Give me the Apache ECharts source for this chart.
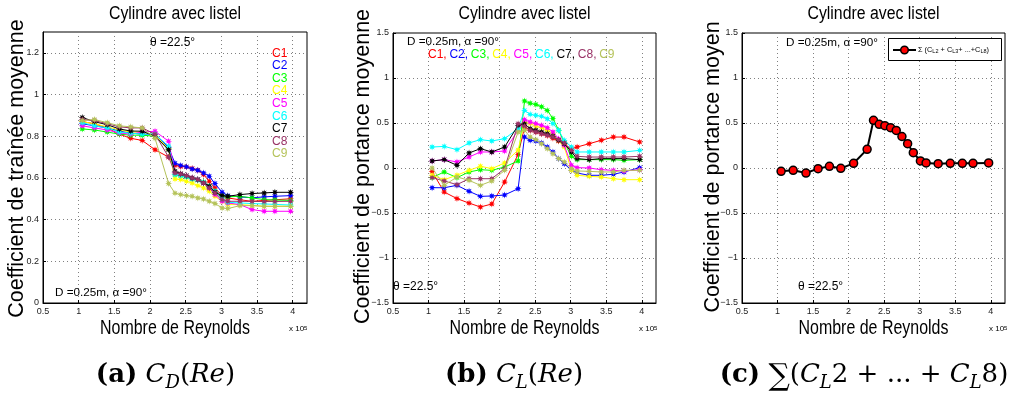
<!DOCTYPE html>
<html><head><meta charset="utf-8">
<script src="https://cdn.jsdelivr.net/npm/echarts@6/dist/echarts.min.js"></script>
<style>html,body{margin:0;padding:0;background:#fff}#c{width:1012px;height:396px}</style>
</head><body><div id="c"></div>
<script>
// Reynolds numbers (x 10^5)
const re = [1.05,1.22,1.40,1.57,1.73,1.89,2.07,2.26,2.35,2.43,2.51,2.59,2.67,2.75,2.83,2.91,3.01,3.09,3.26,3.43,3.60,3.75,3.97];
const xTicks = ['0.5','1','1.5','2','2.5','3','3.5','4'];
const seriesNames = ['C1','C2','C3','C4','C5','C6','C7','C8','C9'];

// (a) drag coefficient C_D
const cdC1 = [0.87,0.86,0.84,0.81,0.79,0.78,0.735,0.70,0.66,0.655,0.653,0.645,0.637,0.616,0.584,0.552,0.515,0.504,0.495,0.488,0.492,0.495,0.50];
const cdC2 = [0.86,0.85,0.84,0.825,0.815,0.81,0.81,0.745,0.67,0.66,0.653,0.643,0.637,0.624,0.608,0.573,0.531,0.515,0.509,0.505,0.509,0.512,0.515];
const cdC3 = [0.835,0.83,0.82,0.81,0.805,0.805,0.80,0.74,0.615,0.61,0.605,0.595,0.59,0.58,0.56,0.535,0.512,0.509,0.512,0.504,0.496,0.494,0.492];
const cdC4 = [0.87,0.86,0.845,0.83,0.82,0.82,0.805,0.74,0.595,0.592,0.584,0.576,0.563,0.552,0.536,0.512,0.488,0.472,0.472,0.468,0.464,0.464,0.464];
const cdC5 = [0.85,0.84,0.83,0.815,0.81,0.82,0.824,0.776,0.625,0.618,0.61,0.60,0.592,0.576,0.552,0.52,0.488,0.48,0.472,0.448,0.44,0.44,0.44];
const cdC6 = [0.865,0.85,0.84,0.82,0.815,0.81,0.81,0.752,0.616,0.611,0.605,0.595,0.59,0.58,0.56,0.536,0.50,0.483,0.48,0.477,0.475,0.473,0.47];
const cdC7 = [0.89,0.87,0.855,0.835,0.825,0.824,0.80,0.735,0.632,0.62,0.611,0.60,0.592,0.576,0.56,0.531,0.515,0.512,0.52,0.525,0.528,0.531,0.531];
const cdC8 = [0.88,0.875,0.86,0.845,0.84,0.84,0.81,0.70,0.624,0.619,0.611,0.60,0.592,0.576,0.552,0.528,0.496,0.488,0.488,0.487,0.487,0.487,0.488];
const cdC9 = [0.875,0.88,0.865,0.85,0.845,0.84,0.79,0.573,0.527,0.52,0.515,0.512,0.504,0.499,0.488,0.477,0.456,0.453,0.467,0.467,0.464,0.464,0.464];

// (b) lift coefficient C_L
const clC1 = [-0.04,-0.267,-0.34,-0.39,-0.433,-0.40,-0.156,0.15,0.45,0.42,0.40,0.38,0.36,0.33,0.30,0.26,0.215,0.233,0.27,0.308,0.344,0.344,0.289];
const clC2 = [-0.219,-0.219,-0.193,-0.259,-0.315,-0.311,-0.30,-0.23,0.344,0.307,0.30,0.278,0.233,0.178,0.104,0.048,-0.026,-0.056,-0.081,-0.081,-0.07,-0.044,0.004];
const clC3 = [-0.107,-0.044,-0.107,-0.044,-0.019,-0.026,0.011,0.078,0.745,0.72,0.705,0.68,0.64,0.55,0.42,0.28,0.13,0.093,0.093,0.093,0.093,0.085,0.093];
const clC4 = [-0.08,-0.13,-0.08,-0.026,0.019,-0.007,0.056,0.20,0.511,0.493,0.463,0.448,0.419,0.381,0.307,0.233,-0.026,-0.081,-0.093,-0.10,-0.119,-0.13,-0.13];
const clC5 = [0.078,0.093,0.067,0.122,0.178,0.178,0.189,0.42,0.537,0.511,0.493,0.474,0.448,0.40,0.326,0.252,0.03,0.004,0.0,-0.019,-0.026,-0.033,-0.019];
const clC6 = [0.233,0.24,0.204,0.278,0.315,0.30,0.326,0.437,0.64,0.596,0.585,0.574,0.548,0.493,0.419,0.307,0.233,0.178,0.178,0.178,0.178,0.178,0.196];
const clC7 = [0.078,0.093,0.03,0.167,0.215,0.178,0.233,0.474,0.49,0.437,0.419,0.40,0.381,0.352,0.307,0.27,0.178,0.104,0.093,0.104,0.104,0.104,0.093];
const clC8 = [-0.107,-0.144,-0.185,-0.119,-0.119,-0.119,-0.007,0.493,0.463,0.419,0.40,0.381,0.363,0.344,0.315,0.278,0.196,0.13,0.122,0.122,0.122,0.122,0.13];
const clC9 = [0.0,-0.193,-0.10,-0.137,-0.193,-0.144,-0.026,0.40,0.419,0.344,0.315,0.27,0.215,0.159,0.104,0.067,-0.007,-0.033,-0.037,-0.044,-0.044,-0.026,-0.026];

// (c) sum C_L2 + ... + C_L8
const sumCL = [-0.037,-0.026,-0.056,-0.007,0.019,-0.004,0.052,0.207,0.53,0.485,0.47,0.448,0.418,0.35,0.27,0.17,0.078,0.056,0.048,0.052,0.052,0.052,0.056];

const cdData = [cdC1,cdC2,cdC3,cdC4,cdC5,cdC6,cdC7,cdC8,cdC9];
const clData = [clC1,clC2,clC3,clC4,clC5,clC6,clC7,clC8,clC9];
const colors = ['#ff0000','#0000ff','#00ff00','#ffff00','#ff00ff','#00ffff','#000000','#993366','#b5c35a'];

function starPath(){
  const p=[];
  for(let k=0;k<16;k++){const a=k*Math.PI/8;const r=(k%2===0)?1:0.45;p.push((50+50*r*Math.sin(a)).toFixed(1)+','+(50-50*r*Math.cos(a)).toFixed(1));}
  return 'path://M'+p.join('L')+'Z';
}
const STAR = starPath();
const pairs = (ys)=>re.map((x,i)=>[x,ys[i]]);

const SANS = 'Liberation Sans, Arial, Helvetica, sans-serif';
const fmtX = v => (v>4.05 ? '' : String(v));
const fmtYa = v => (v>1.25 ? '' : String(+v.toFixed(1)));
const fmtYb = v => (v===0 ? '0' : (v<0 ? '\u2212'+String(-v) : String(v)));

const grids = [
  {left:43, top:32, width:264, height:271},
  {left:393, top:33, width:263, height:270},
  {left:742, top:33, width:263, height:270}
];
const splitStyle = {show:true, lineStyle:{type:[1,3], color:'#808080', width:1}};
const axisLabelStyle = {fontFamily:SANS, fontSize:9, color:'#222'};

const xAxes = grids.map((g,i)=>({
  type:'value', gridIndex:i, min:0.5, max:4.2, interval:0.5,
  axisLine:{show:true, onZero:false, lineStyle:{color:'#000', width:1}},
  axisTick:{show:true, inside:true, length:3, lineStyle:{color:'#000'}},
  axisLabel:{...axisLabelStyle, margin:4, formatter:fmtX, showMaxLabel:false},
  splitLine:splitStyle
}));
const yAxes = [
  {type:'value', gridIndex:0, min:0, max:1.3, interval:0.2,
   axisLine:{show:true, lineStyle:{color:'#000'}}, axisTick:{show:true, inside:true, length:3, lineStyle:{color:'#000'}},
   axisLabel:{...axisLabelStyle, margin:4, formatter:fmtYa, showMaxLabel:false}, splitLine:splitStyle},
  {type:'value', gridIndex:1, min:-1.5, max:1.5, interval:0.5,
   axisLine:{show:true, lineStyle:{color:'#000'}}, axisTick:{show:true, inside:true, length:3, lineStyle:{color:'#000'}},
   axisLabel:{...axisLabelStyle, margin:4, formatter:fmtYb}, splitLine:splitStyle},
  {type:'value', gridIndex:2, min:-1.5, max:1.5, interval:0.5,
   axisLine:{show:true, lineStyle:{color:'#000'}}, axisTick:{show:true, inside:true, length:3, lineStyle:{color:'#000'}},
   axisLabel:{...axisLabelStyle, margin:4, formatter:fmtYb}, splitLine:splitStyle}
];

const series = [];
cdData.forEach((d,i)=>series.push({name:'a'+seriesNames[i], type:'line', xAxisIndex:0, yAxisIndex:0, data:pairs(d),
  symbol:STAR, symbolSize:7, showAllSymbol:true, lineStyle:{width:1, color:colors[i]}, itemStyle:{color:colors[i]}, animation:false, z:2+i}));
clData.forEach((d,i)=>series.push({name:'b'+seriesNames[i], type:'line', xAxisIndex:1, yAxisIndex:1, data:pairs(d),
  symbol:STAR, symbolSize:7, showAllSymbol:true, lineStyle:{width:1, color:colors[i]}, itemStyle:{color:colors[i]}, animation:false, z:2+i}));
series.push({name:'sum', type:'line', xAxisIndex:2, yAxisIndex:2, data:pairs(sumCL),
  symbol:'circle', symbolSize:8, showAllSymbol:true, lineStyle:{width:2, color:'#000'},
  itemStyle:{color:'#ff0000', borderColor:'#000', borderWidth:1.5}, animation:false, z:5});

function txt(x,y,text,size,opts){
  opts=opts||{};
  return {type:'text', x:x, y:y, rotation:opts.rot||0, scaleX:opts.sx||1, z:100,
    style:{text:text, fontFamily:opts.font||SANS, fontSize:size, fill:opts.color||'#000',
      align:opts.align||'left', verticalAlign:opts.va||'middle', fontWeight:opts.weight||'normal', rich:opts.rich}};
}
const graphics = [];
// titles and axis names
[175,524.5,873.5].forEach(cx=>{
  graphics.push(txt(cx,14.5,'Cylindre avec listel',18,{align:'center', sx:0.88}));
  graphics.push(txt(cx,328,'Nombre de Reynolds',21,{align:'center', sx:0.76}));
});
graphics.push(txt(17.5,168.5,'Coefficient de traînée moyenne',21.5,{align:'center', rot:Math.PI/2}));
graphics.push(txt(363,166.5,'Coefficient de portance moyenne',21.5,{align:'center', rot:Math.PI/2}));
graphics.push(txt(713,167,'Coefficient de portance moyen',21.5,{align:'center', rot:Math.PI/2}));
// x 10^5
const expRich = {s:{fontSize:6, fontFamily:SANS, verticalAlign:'top', lineHeight:8}, n:{fontSize:8, fontFamily:SANS, verticalAlign:'bottom', lineHeight:8, padding:[3,0,0,0]}};
[289,639,989].forEach(x=>graphics.push(txt(x,329,'{n|x 10}{s|5}',8,{rich:expRich})));
// annotations
graphics.push(txt(150,43,'θ =22.5°',12));
graphics.push(txt(55,293,'D =0.25m, α =90°',11.7));
graphics.push(txt(407,42,'D =0.25m, α =90°',11.7));
graphics.push(txt(393,287,'θ =22.5°',12));
graphics.push(txt(786,43,'D =0.25m, α =90°',11.7));
graphics.push(txt(798,287,'θ =22.5°',12));
// legends
seriesNames.forEach((n,i)=>{
  graphics.push(txt(272,53.3+i*12.6,n,12,{color:colors[i]}));
  graphics.push(txt(428+i*21.4,55,n+(i<8?',':''),12,{color:colors[i]}));
});
// legend box (c)
graphics.push({type:'rect', z:100, shape:{x:888.5,y:38.5,width:113,height:22}, style:{fill:'#fff', stroke:'#000', lineWidth:1}});
graphics.push({type:'line', z:101, shape:{x1:893,y1:50,x2:916,y2:50}, style:{stroke:'#000', lineWidth:2}});
graphics.push({type:'circle', z:102, shape:{cx:904.5,cy:50,r:3.8}, style:{fill:'#ff0000', stroke:'#000', lineWidth:1.5}});
const legRich = {n:{fontSize:8, fontFamily:SANS, verticalAlign:'top', lineHeight:9, padding:[0,0,3,0]}, s:{fontSize:6, fontFamily:SANS, verticalAlign:'bottom', lineHeight:7}};
graphics.push(txt(918,50,'{n|Σ (C}{s|L2}{n| + C}{s|L3}{n|+ ...+C}{s|L8}{n|)}',8,{rich:legRich, sx:0.92}));
// captions
const SERIF = 'DejaVu Serif, Liberation Serif, serif';
const capRich = {
  b:{fontFamily:SERIF, fontWeight:'bold', fontSize:26, lineHeight:30, verticalAlign:'top', padding:[0,0,7,0]},
  i:{fontFamily:SERIF, fontStyle:'italic', fontSize:26, lineHeight:30, verticalAlign:'top', padding:[0,0,7,0]},
  r:{fontFamily:SERIF, fontSize:26, lineHeight:30, verticalAlign:'top', padding:[0,0,7,0]},
  s:{fontFamily:SERIF, fontStyle:'italic', fontSize:18, lineHeight:18, verticalAlign:'bottom'},
  g:{fontFamily:SERIF, fontSize:30, lineHeight:30, verticalAlign:'top', padding:[0,0,7,0]}
};
graphics.push(txt(165.5,377,'{b|(a)}{r| }{i|C}{s|D}{r|(}{i|Re}{r|)}',26,{rich:capRich, align:'center'}));
graphics.push(txt(514,377,'{b|(b)}{r| }{i|C}{s|L}{r|(}{i|Re}{r|)}',26,{rich:capRich, align:'center'}));
graphics.push(txt(864,377,'{b|(c)}{r| }{g|∑}{r|(}{i|C}{s|L}{r|2 + ... + }{i|C}{s|L}{r|8)}',26,{rich:capRich, align:'center'}));

const chart = echarts.init(document.getElementById('c'), null, {renderer:'canvas'});
chart.setOption({
  animation:false,
  backgroundColor:'#fff',
  grid: grids.map(g=>({...g, show:true, borderColor:'#000', borderWidth:1, backgroundColor:'transparent', containLabel:false})),
  xAxis:xAxes, yAxis:yAxes, series:series, graphic:graphics
});
</script></body></html>
